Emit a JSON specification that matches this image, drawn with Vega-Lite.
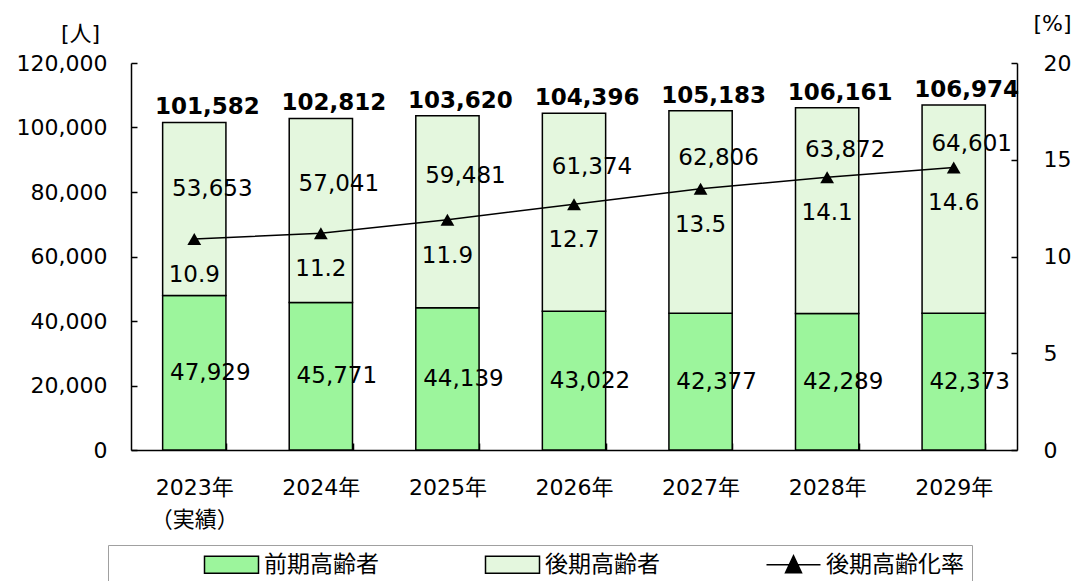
{
  "$schema": "https://vega.github.io/schema/vega-lite/v6.json",
  "width": 886,
  "height": 387,
  "autosize": {"type": "none"},
  "padding": {"left": 131, "top": 63, "right": 63, "bottom": 131},
  "background": "white",
  "config": {
    "font": "DejaVu Sans",
    "view": {"stroke": null},
    "axis": {
      "grid": false,
      "domainColor": "black",
      "domainWidth": 1.5,
      "tickColor": "black",
      "tickWidth": 1.5,
      "labelColor": "black",
      "labelFontSize": 22,
      "labelFont": "DejaVu Sans, Noto Sans CJK JP",
      "titleFontSize": 22,
      "titleFontWeight": "normal",
      "titleColor": "black",
      "titleFont": "DejaVu Sans, Noto Sans CJK JP"
    }
  },
  "data": {
    "values": [
      {"year": "2023年", "前期高齢者": 47929, "後期高齢者": 53653, "total": 101582, "rate": 10.9},
      {"year": "2024年", "前期高齢者": 45771, "後期高齢者": 57041, "total": 102812, "rate": 11.2},
      {"year": "2025年", "前期高齢者": 44139, "後期高齢者": 59481, "total": 103620, "rate": 11.9},
      {"year": "2026年", "前期高齢者": 43022, "後期高齢者": 61374, "total": 104396, "rate": 12.7},
      {"year": "2027年", "前期高齢者": 42377, "後期高齢者": 62806, "total": 105183, "rate": 13.5},
      {"year": "2028年", "前期高齢者": 42289, "後期高齢者": 63872, "total": 106161, "rate": 14.1},
      {"year": "2029年", "前期高齢者": 42373, "後期高齢者": 64601, "total": 106974, "rate": 14.6}
    ]
  },
  "encoding": {
    "x": {
      "field": "year",
      "type": "nominal",
      "sort": null,
      "scale": {"paddingInner": 0.5, "paddingOuter": 0.25},
      "axis": {
        "title": null,
        "labelAngle": 0,
        "tickBand": "extent",
        "tickSize": -7,
        "labelPadding": 34,
        "labelLineHeight": 32,
        "labelExpr": "datum.value == '2023年' ? ['2023年', '（実績）'] : datum.value"
      }
    }
  },
  "layer": [
    {
      "layer": [
        {
          "transform": [{"fold": ["前期高齢者", "後期高齢者"], "as": ["grp", "v"]}],
          "mark": {"type": "bar", "stroke": "black", "strokeWidth": 1.5},
          "encoding": {
            "y": {
              "field": "v",
              "type": "quantitative",
              "stack": "zero",
              "scale": {"domain": [0, 120000], "nice": false},
              "axis": {
                "values": [0, 20000, 40000, 60000, 80000, 100000, 120000],
                "format": ",d",
                "tickSize": -6,
                "labelPadding": 30,
                "title": "[人]",
                "titleAngle": 0,
                "titleX": -51,
                "titleY": -30,
                "titleAlign": "center",
                "titleBaseline": "middle"
              }
            },
            "order": {"field": "grp", "sort": "ascending"},
            "color": {
              "field": "grp",
              "type": "nominal",
              "scale": {
                "domain": ["前期高齢者", "後期高齢者", "後期高齢化率"],
                "range": ["#9cf59c", "#e4f7de", "black"]
              },
              "legend": {
                "title": "\u00a0",
                "titleOrient": "left",
                "titlePadding": 87,
                "titleFontSize": 12,
                "orient": "none",
                "legendX": -23,
                "legendY": 482,
                "direction": "horizontal",
                "columnPadding": 103,
                "padding": 8,
                "strokeColor": "#a0a0a0",
                "fillColor": "white",
                "labelFont": "Noto Sans CJK JP",
                "labelFontSize": 23,
                "labelColor": "black",
                "labelOffset": 38,
                "labelLimit": 400,
                "labelExpr": "datum.value == '後期高齢化率' ? datum.value + '\u3000\u3000\u3000\u3000' : datum.value",
                "symbolSize": 400,
                "symbolStrokeColor": "black",
                "symbolStrokeWidth": 1.5,
                "symbolOpacity": 1,
                "encode": {
                  "symbols": {
                    "update": {
                      "shape": {"signal": "datum.value == '後期高齢化率' ? 'M-1,0H4.4M0.9,0.8L1.7,-0.9L2.5,0.8Z' : 'M-1,-0.85H4.4V0.85H-1Z'"}
                    }
                  }
                }
              }
            }
          }
        },
        {
          "transform": [{"calculate": "datum['前期高齢者'] / 2", "as": "mid"}],
          "mark": {"type": "text", "fontSize": 23, "dx": 16, "color": "black"},
          "encoding": {
            "y": {
              "field": "mid",
              "type": "quantitative",
              "axis": {
                "values": [0, 20000, 40000, 60000, 80000, 100000, 120000],
                "format": ",d",
                "tickSize": -6,
                "labelPadding": 30,
                "title": "[人]",
                "titleAngle": 0,
                "titleX": -51,
                "titleY": -30,
                "titleAlign": "center",
                "titleBaseline": "middle"
              }
            },
            "text": {"field": "前期高齢者", "type": "quantitative", "format": ","}
          }
        },
        {
          "mark": {"type": "text", "fontSize": 23, "fontWeight": "bold", "baseline": "bottom", "dy": -3, "dx": 13, "color": "black"},
          "encoding": {
            "y": {
              "field": "total",
              "type": "quantitative",
              "axis": {
                "values": [0, 20000, 40000, 60000, 80000, 100000, 120000],
                "format": ",d",
                "tickSize": -6,
                "labelPadding": 30,
                "title": "[人]",
                "titleAngle": 0,
                "titleX": -51,
                "titleY": -30,
                "titleAlign": "center",
                "titleBaseline": "middle"
              }
            },
            "text": {"field": "total", "type": "quantitative", "format": ","}
          }
        },
        {
          "transform": [{"calculate": "(datum.total + datum.rate * 6000) / 2", "as": "upper"}],
          "mark": {"type": "text", "fontSize": 23, "dy": 8, "dx": 18, "color": "black"},
          "encoding": {
            "y": {
              "field": "upper",
              "type": "quantitative",
              "axis": {
                "values": [0, 20000, 40000, 60000, 80000, 100000, 120000],
                "format": ",d",
                "tickSize": -6,
                "labelPadding": 30,
                "title": "[人]",
                "titleAngle": 0,
                "titleX": -51,
                "titleY": -30,
                "titleAlign": "center",
                "titleBaseline": "middle"
              }
            },
            "text": {"field": "後期高齢者", "type": "quantitative", "format": ","}
          }
        }
      ]
    },
    {
      "encoding": {
        "y": {
          "field": "rate",
          "type": "quantitative",
          "scale": {"domain": [0, 20], "nice": false},
          "axis": {
            "orient": "right",
            "values": [0, 5, 10, 15, 20],
            "tickSize": -6,
            "labelPadding": 32,
            "title": "[%]",
            "titleAngle": 0,
            "titleX": 35,
            "titleY": -40,
            "titleAlign": "center",
            "titleBaseline": "middle"
          }
        }
      },
      "layer": [
        {"mark": {"type": "line", "color": "black", "strokeWidth": 1.5}},
        {"mark": {"type": "point", "shape": "triangle-up", "filled": true, "color": "black", "size": 190, "opacity": 1}},
        {
          "mark": {"type": "text", "fontSize": 23, "dy": 36, "color": "black"},
          "encoding": {"text": {"field": "rate", "type": "quantitative", "format": ".1f"}}
        }
      ]
    }
  ],
  "resolve": {"scale": {"y": "independent"}}
}
